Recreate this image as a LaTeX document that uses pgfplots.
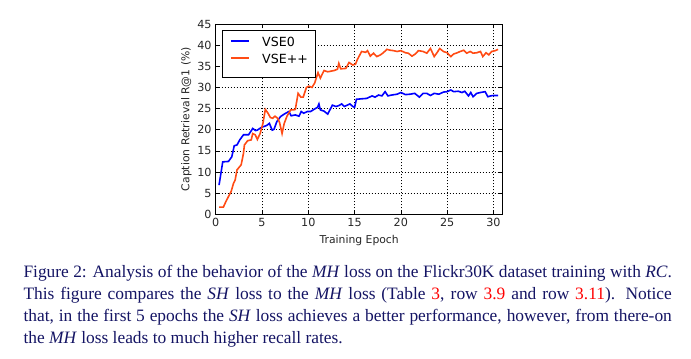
\documentclass[border=0pt]{standalone}
\usepackage{fontspec}
\setmainfont{Liberation Serif}
\newfontfamily\dejavu{DejaVu Sans}
\usepackage{pgfplots}
\pgfplotsset{compat=1.18}
\definecolor{vseblue}{RGB}{0,0,255}
\definecolor{vseorange}{RGB}{255,75,20}
\definecolor{capnavy}{RGB}{20,20,100}
\definecolor{capred}{RGB}{255,0,0}
\begin{document}
\begin{tikzpicture}
\path[use as bounding box] (0,0) rectangle (691bp,359bp);
\begin{axis}[
  at={(215.7bp,144.7bp)}, anchor=south west,
  scale only axis, width=287bp, height=190.3bp,
  xmin=0, xmax=31, ymin=0, ymax=45,
  xtick={0,5,10,15,20,25,30},
  ytick={0,5,10,15,20,25,30,35,40,45},
  tick align=inside,
  major tick length=4bp,
  every tick/.style={black, line width=0.7bp},
  axis line style={black, line width=0.9bp},
  grid=major,
  grid style={black, line width=0.7bp, dash pattern=on 1bp off 2bp},
  /pgf/number format/assume math mode=true,
  ticklabel style={font=\dejavu\fontsize{11.2bp}{13bp}\selectfont, text=black!85},
  xticklabel style={inner sep=0pt, yshift=-3.7bp},
  yticklabel style={inner sep=0pt, xshift=-4bp},
  xlabel={Training Epoch},
  ylabel={Caption Retrieval R@1 (\%)},
  label style={font=\dejavu\fontsize{10.8bp}{12bp}\selectfont, text=black!85},
  xlabel style={at={(axis description cs:0.5,0)}, anchor=north, inner sep=0pt, yshift=-20.7bp},
  ylabel style={at={([xshift=-24bp]axis description cs:0,0.5)}, anchor=south, rotate=0, inner sep=0pt},
  legend style={at={(rel axis cs:0,1)}, anchor=north west, xshift=6bp, yshift=-6.5bp,
    draw=black, line width=0.8bp, inner xsep=8bp, inner ysep=6.5bp,
    font=\dejavu\fontsize{12.6bp}{14bp}\selectfont,
    nodes={inner sep=0pt, text height=9.5bp, text depth=7.5bp},
    row sep=0pt, column sep=12.4bp},
  legend cell align=left,
  legend image code/.code={\draw[#1, line width=1.7bp] (0bp,4.7bp) -- (18bp,4.7bp);},
]
\addplot[vseblue, line width=1.6bp] coordinates {
(0.36,6.9) (0.76,12.4) (1.38,12.5) (1.74,13.6) (2.0,16.2) (2.3,16.4) (2.6,17.6) (3.0,18.8)
(3.55,18.8) (3.7,19.3) (4.0,20.3) (4.3,19.8) (4.5,19.9) (4.75,20.3) (5.0,20.6) (5.5,21.0)
(5.8,21.5) (6.1,19.9) (6.3,20.1) (6.6,21.9) (7.0,23.1) (7.4,23.7) (7.9,24.3) (8.15,23.3)
(8.6,23.5) (8.99,23.2) (9.24,24.3) (9.5,23.9) (9.9,24.3) (10.25,24.3) (10.6,24.8) (11.0,25.3)
(11.15,26.1) (11.3,24.7) (11.7,24.4) (12.1,23.7) (12.6,25.8) (13.0,25.5) (13.3,25.7) (13.6,26.1)
(13.9,25.5) (14.2,25.8) (14.5,26.1) (14.8,25.5) (15.0,25.3) (15.2,27.2) (15.7,27.3) (16.3,27.4)
(16.9,28.0) (17.2,27.7) (17.6,28.2) (17.95,28.0) (18.3,29.0) (18.6,28.0) (19.0,28.2) (19.6,28.4)
(20.0,28.8) (20.5,28.3) (21.0,28.4) (21.5,28.6) (22.0,27.7) (22.4,28.6) (22.8,28.6) (23.2,28.1)
(23.6,28.6) (24.1,28.4) (24.6,28.9) (25.0,29.0) (25.4,29.4) (25.7,29.0) (26.2,29.1) (26.6,28.8)
(26.9,29.1) (27.3,28.0) (27.55,28.8) (27.8,27.8) (28.2,28.6) (28.6,28.8) (29.1,29.0) (29.4,27.8)
(29.7,28.0) (30.0,28.1) (30.5,28.1)
};
\addlegendentry{VSE0}
\addplot[vseorange, line width=1.6bp] coordinates {
(0.36,1.7) (0.83,1.7) (1.1,3.0) (1.38,4.2) (1.67,5.4) (1.92,7.3) (2.1,8.1) (2.3,10.5)
(2.6,11.3) (2.75,11.7) (3.0,14.4) (3.1,16.4) (3.45,17.4) (3.84,17.6) (4.0,19.1) (4.27,18.8)
(4.5,17.7) (4.8,19.1) (5.1,21.5) (5.36,24.8) (5.65,23.9) (5.9,22.9) (6.16,22.7) (6.4,23.2)
(6.7,22.7) (6.9,21.7) (7.17,19.1) (7.4,21.5) (7.7,23.2) (8.1,24.7) (8.44,24.7) (8.6,24.8)
(8.9,28.6) (9.2,27.7) (9.45,27.7) (9.8,30.0) (10.07,30.3) (10.4,30.0) (10.7,31.1) (11.05,33.5)
(11.3,32.2) (11.7,34.0) (12.1,33.7) (12.8,34.0) (13.15,34.3) (13.3,35.7) (13.5,34.4) (14.06,34.5)
(14.4,35.9) (14.8,35.3) (15.1,35.5) (15.3,36.6) (15.76,38.5) (16.2,38.3) (16.4,38.7) (16.7,37.4)
(17.05,38.1) (17.4,37.3) (17.8,37.7) (18.1,38.2) (18.5,39.0) (18.85,38.8) (19.2,38.7) (19.6,38.5)
(20.0,38.7) (20.5,38.2) (20.8,38.1) (21.2,37.4) (21.55,37.9) (21.9,38.7) (22.4,38.5) (22.8,38.1)
(23.2,39.2) (23.6,37.3) (23.9,38.2) (24.2,39.2) (24.6,38.5) (25.0,38.2) (25.4,37.3) (25.7,37.9)
(26.1,38.2) (26.4,38.5) (26.8,38.8) (27.1,38.1) (27.5,38.5) (27.8,38.1) (28.2,38.2) (28.6,38.5)
(28.85,37.3) (29.2,38.2) (29.5,37.7) (29.8,38.5) (30.2,38.7) (30.5,39.0)
};
\addlegendentry{VSE++}
\end{axis}
\node[anchor=north west, inner sep=0pt, text width=648.4bp, align=justify,
  font=\fontsize{17.4bp}{22bp}\selectfont, text=capnavy] at (23.3bp,93.5bp) {%
Figure 2: Analysis of the behavior of the \textit{MH} loss on the Flickr30K dataset training with \textit{RC}.\linebreak
This figure compares the \textit{SH} loss to the \textit{MH} loss (Table \textcolor{capred}{3}, row \textcolor{capred}{3.9} and row \textcolor{capred}{3.11}). Notice\linebreak
that, in the first 5 epochs the \textit{SH} loss achieves a better performance, however, from there-on\linebreak
the \textit{MH} loss leads to much higher recall rates.};
\end{tikzpicture}
\end{document}
